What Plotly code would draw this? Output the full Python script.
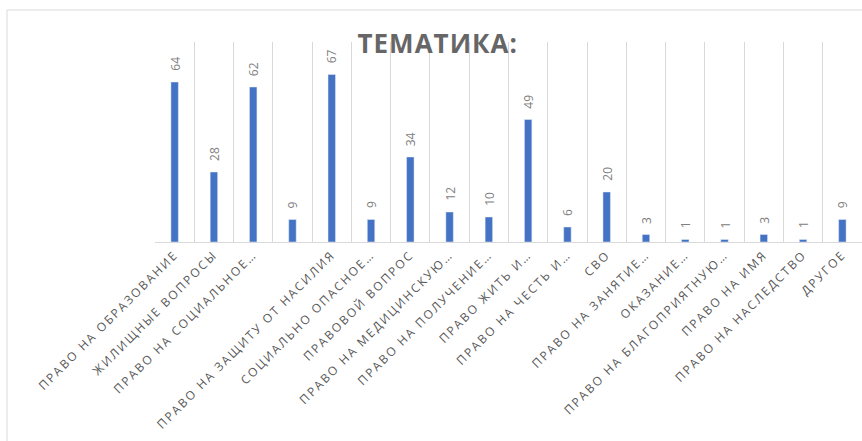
import plotly.graph_objects as go

categories = [
    "ПРАВО НА ОБРАЗОВАНИЕ",
    "ЖИЛИЩНЫЕ ВОПРОСЫ",
    "ПРАВО НА СОЦИАЛЬНОЕ…",
    " ",
    "ПРАВО НА ЗАЩИТУ ОТ НАСИЛИЯ",
    "СОЦИАЛЬНО ОПАСНОЕ…",
    "ПРАВОВОЙ ВОПРОС",
    "ПРАВО НА МЕДИЦИНСКУЮ…",
    "ПРАВО НА ПОЛУЧЕНИЕ…",
    "ПРАВО ЖИТЬ И…",
    "ПРАВО НА ЧЕСТЬ И…",
    "СВО",
    "ПРАВО НА ЗАНЯТИЕ…",
    "ОКАЗАНИЕ…",
    "ПРАВО НА БЛАГОПРИЯТНУЮ…",
    "ПРАВО НА ИМЯ",
    "ПРАВО НА НАСЛЕДСТВО",
    "ДРУГОЕ",
]
values = [64, 28, 62, 9, 67, 9, 34, 12, 10, 49, 6, 20, 3, 1, 1, 3, 1, 9]
title_text = "ТЕМАТИКА:"

fig = go.Figure(go.Bar(
    x=categories, y=values,
    marker_color="#4472C4", width=0.19,
))

annotations = [
    dict(x=c, y=v, xref="x", yref="y", text=str(v), textangle=-90,
         showarrow=False, yanchor="bottom", xanchor="center", yshift=9,
         font=dict(family="Open Sans", size=12, color="#808080"))
    for c, v in zip(categories, values)
]
annotations.append(dict(text="<b>" + title_text + "</b>", xref="paper", yref="paper",
                        x=(437 - 155) / 707, y=(242 - 43) / 200, yanchor="middle",
                        xanchor="center", showarrow=False,
                        font=dict(family="Open Sans", size=26, color="#666666")))

fig.update_layout(
    width=862, height=441,
    margin=dict(l=155, r=0, t=42, b=199),
    paper_bgcolor="white", plot_bgcolor="white",
    showlegend=False, hovermode=False,
    xaxis=dict(tickangle=-45, tickson="boundaries", showgrid=True,
               gridcolor="#d9d9d9", showline=True, linecolor="#d9d9d9",
               ticks="", automargin=False,
               tickfont=dict(family="Open Sans", size=12, color="#595959")),
    yaxis=dict(range=[0, 80], visible=False, showgrid=False),
    annotations=annotations,
    shapes=[
        dict(type="line", xref="paper", yref="paper", x0=(7 - 155) / 707, x1=1.02,
             y0=(242 - 10) / 200, y1=(242 - 10) / 200, line=dict(color="#d9d9d9", width=1)),
        dict(type="line", xref="paper", yref="paper", x0=(7 - 155) / 707, x1=(7 - 155) / 707,
             y0=(242 - 10) / 200, y1=-1.05, line=dict(color="#d9d9d9", width=1)),
    ],
)

post = """
document.body.style.margin = '0';
document.documentElement.style.overflow = 'hidden';
var gd = document.getElementById('{plot_id}');
gd.querySelectorAll('.xtick text').forEach(function(t){ t.style.letterSpacing = '2px'; });
gd.querySelectorAll('.annotation-text').forEach(function(t){
  if (t.textContent.indexOf('ТЕМАТИКА') >= 0) { t.style.letterSpacing = '1px'; }
});
"""
fig.write_html("out.html", post_script=post, config={"displayModeBar": False, "staticPlot": True})
